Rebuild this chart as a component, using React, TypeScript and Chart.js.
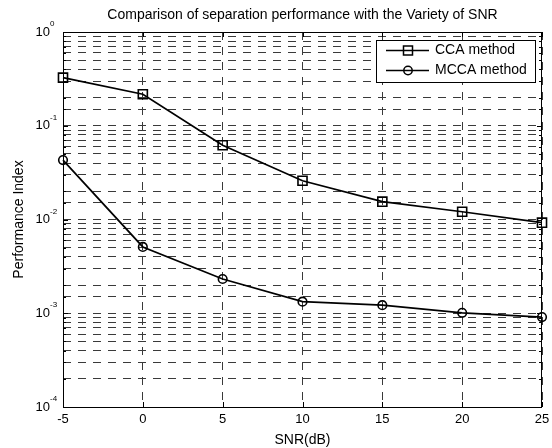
import React, { useEffect, useRef } from "react";
import { Chart, registerables } from "chart.js";

Chart.register(...registerables);

const snr = [-5, 0, 5, 10, 15, 20, 25];
const ccaValues = [0.326, 0.217, 0.062, 0.0259, 0.0155, 0.0121, 0.00925];
const mccaValues = [0.043, 0.0051, 0.00232, 0.00133, 0.00122, 0.00101, 0.00091];
const xTicks = [-5, 0, 5, 10, 15, 20, 25];
const yDecadeExponents = [-4, -3, -2, -1, 0];
const seriesNames = ["CCA method", "MCCA method"];
const titleText = "Comparison of separation performance with the Variety of SNR";
const xTitle = "SNR(dB)";
const yTitle = "Performance Index";

const FONT = "'Liberation Sans', Arial, sans-serif";

const overlayPlugin = {
  id: "matlabOverlay",
  afterDraw(chart: any) {
    const ctx = chart.ctx as CanvasRenderingContext2D;
    const { left, right, top, bottom } = chart.chartArea;
    const xs = chart.scales.x;
    const ys = chart.scales.y;
    ctx.save();
    ctx.strokeStyle = "#000";
    ctx.lineWidth = 1;
    ctx.setLineDash([]);
    // box
    ctx.strokeRect(Math.round(left) + 0.5, Math.round(top) + 0.5, Math.round(right - left) - 1, Math.round(bottom - top));
    // x ticks inside (top & bottom)
    ctx.beginPath();
    xTicks.forEach((v) => {
      const px = Math.round(xs.getPixelForValue(v)) + 0.5;
      ctx.moveTo(px, bottom);
      ctx.lineTo(px, bottom - 5);
      ctx.moveTo(px, top);
      ctx.lineTo(px, top + 5);
    });
    // y ticks inside (left & right)
    ys.ticks.forEach((t: any) => {
      const v = t.value;
      const e = Math.log10(v);
      const major = Math.abs(e - Math.round(e)) < 1e-9;
      const len = major ? 5 : 3;
      const py = Math.round(ys.getPixelForValue(v)) + 0.5;
      ctx.moveTo(left, py);
      ctx.lineTo(left + len, py);
      ctx.moveTo(right, py);
      ctx.lineTo(right - len, py);
    });
    ctx.stroke();

    ctx.fillStyle = "#000";
    // y tick labels 10^n
    yDecadeExponents.forEach((e) => {
      const py = ys.getPixelForValue(Math.pow(10, e));
      ctx.font = `13px ${FONT}`;
      ctx.textAlign = "right";
      ctx.textBaseline = "middle";
      ctx.fillText("10", 50, py);
      ctx.font = `8px ${FONT}`;
      ctx.textAlign = "left";
      ctx.fillText(String(e), 50, py - 8);
    });
    // x tick labels
    ctx.font = `13px ${FONT}`;
    ctx.textAlign = "center";
    ctx.textBaseline = "middle";
    xTicks.forEach((v) => {
      ctx.fillText(String(v), xs.getPixelForValue(v), 419);
    });
    // titles
    ctx.font = `14px ${FONT}`;
    ctx.fillText(titleText, (left + right) / 2, 15);
    ctx.fillText(xTitle, (left + right) / 2, 440);
    ctx.save();
    ctx.translate(19, (top + bottom) / 2);
    ctx.rotate(-Math.PI / 2);
    ctx.fillText(yTitle, 0, 0);
    ctx.restore();

    // legend
    const lx = 376, ly = 40, lw = 159, lh = 42;
    ctx.fillStyle = "#fff";
    ctx.fillRect(lx, ly, lw, lh);
    ctx.strokeStyle = "#000";
    ctx.lineWidth = 1;
    ctx.strokeRect(lx + 0.5, ly + 0.5, lw, lh);
    const rows = [50.5, 70.5];
    rows.forEach((ry, i) => {
      ctx.lineWidth = 1.6;
      ctx.beginPath();
      ctx.moveTo(386, ry);
      ctx.lineTo(429, ry);
      ctx.stroke();
      ctx.lineWidth = 1.5;
      if (i === 0) {
        ctx.strokeRect(408 - 4.5, ry - 4.5, 9, 9);
      } else {
        ctx.beginPath();
        ctx.arc(408, ry, 4.2, 0, Math.PI * 2);
        ctx.stroke();
      }
      ctx.fillStyle = "#000";
      ctx.font = `14px ${FONT}`;
      ctx.textAlign = "left";
      ctx.textBaseline = "middle";
      ctx.fillText(seriesNames[i], 435, ry);
    });
    ctx.restore();
  },
};

export default function App() {
  const ref = useRef<HTMLCanvasElement | null>(null);
  useEffect(() => {
    if (!ref.current) return;
    const gridColor = "#3a3a3a";
    const chart = new Chart(ref.current, {
      type: "line",
      data: {
        datasets: [
          {
            label: seriesNames[0],
            data: snr.map((x, i) => ({ x, y: ccaValues[i] })),
            borderColor: "#000",
            borderWidth: 1.7,
            pointStyle: "rect",
            pointRadius: 6.4,
            pointBorderWidth: 1.6,
            pointBackgroundColor: "transparent",
            pointBorderColor: "#000",
            clip: false,
          } as any,
          {
            label: seriesNames[1],
            data: snr.map((x, i) => ({ x, y: mccaValues[i] })),
            borderColor: "#000",
            borderWidth: 1.7,
            pointStyle: "circle",
            pointRadius: 4.3,
            pointBorderWidth: 1.6,
            pointBackgroundColor: "transparent",
            pointBorderColor: "#000",
            clip: false,
          } as any,
        ],
      },
      options: {
        animation: false,
        responsive: false,
        devicePixelRatio: 1,
        layout: { padding: { left: 0, top: 32, right: 10, bottom: 0 } },
        plugins: { legend: { display: false }, title: { display: false }, tooltip: { enabled: false } },
        scales: {
          x: {
            type: "linear",
            min: -5,
            max: 25,
            ticks: { stepSize: 5, display: false },
            grid: { color: gridColor, lineWidth: 1, drawTicks: false },
            border: { display: false, dash: [8, 7] },
            afterFit: (s: any) => { s.height = 41; },
          },
          y: {
            type: "logarithmic",
            min: 1e-4,
            max: 1,
            ticks: { display: false },
            grid: { color: gridColor, lineWidth: 1, drawTicks: false },
            border: { display: false, dash: [8, 7] },
            afterFit: (s: any) => { s.width = 63; },
          },
        },
      } as any,
      plugins: [overlayPlugin],
    });
    return () => chart.destroy();
  }, []);
  return (
    <div style={{ position: "fixed", left: 0, top: 0, width: 552, height: 448, background: "#fff" }}>
      <canvas ref={ref} width={552} height={448} style={{ width: 552, height: 448, display: "block" }} />
    </div>
  );
}
